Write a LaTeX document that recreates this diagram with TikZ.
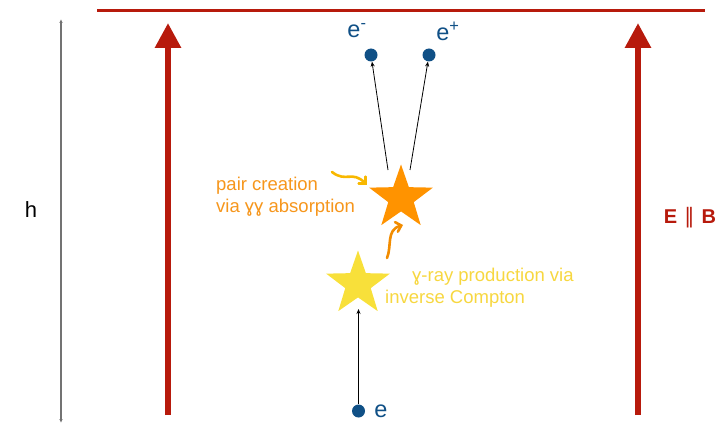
\documentclass[tikz,border=0pt]{standalone}
\usepackage{fontspec}
\setmainfont{Liberation Sans}
\newfontfamily\symfont{DejaVu Sans}
\usetikzlibrary{arrows.meta,shapes.geometric}

\definecolor{fieldred}{RGB}{183,26,12}
\definecolor{leptonblue}{RGB}{16,80,134}
\definecolor{pairorange}{RGB}{255,147,0}
\definecolor{pairtext}{RGB}{246,150,28}
\definecolor{comptonyellow}{RGB}{248,224,58}
\definecolor{comptontext}{RGB}{247,215,64}
\definecolor{waveamber}{RGB}{248,184,0}
\definecolor{waveorange}{RGB}{242,140,0}
\definecolor{scalegray}{RGB}{115,115,115}

\tikzset{
  fieldarrow/.style={draw=fieldred, line width=6pt,
    -{Triangle[width=25pt,length=25pt]}},
  lepton/.style={circle, fill=leptonblue, minimum size=13pt, inner sep=0pt},
  lepton label/.style={text=leptonblue, font=\fontsize{23.5}{25}\selectfont, inner sep=0pt},
  photonstar/.style={star, star points=5, star point ratio=2.5,
    inner sep=0pt, minimum size=67pt},
  track/.style={draw=black, line width=0.8pt, -{Stealth[length=5pt,width=4pt]}},
  wave/.style={line width=2.6pt, line cap=round,
    -{Straight Barb[length=5pt,width=10pt,line cap=round]}},
  caption/.style={font=\fontsize{18.5}{22}\selectfont, align=left, inner sep=0pt},
}

\begin{document}
\begin{tikzpicture}[x=1pt, y=-1pt]
  \useasboundingbox (0,0) rectangle (723,425);

  % height scale on the left
  \coordinate (hbot) at (61,423);
  \coordinate (htop) at (61,19);
  \draw[draw=scalegray, line width=1.2pt, {Latex[length=4pt,width=3.5pt]}-{Latex[length=4pt,width=3.5pt]}] (hbot) -- (htop);
  \node[font=\fontsize{22}{24}\selectfont, inner sep=0pt] (hlabel) at (31,210) {h};

  % upper boundary of the gap
  \coordinate (capL) at (97,11);
  \coordinate (capR) at (705,11);
  \draw[draw=fieldred, line width=3pt] (capL) -- (capR);

  % parallel E and B field arrows
  \coordinate (fL0) at (168,415);
  \coordinate (fL1) at (168,23);
  \coordinate (fR0) at (638,415);
  \coordinate (fR1) at (638,23);
  \draw[fieldarrow] (fL0) -- (fL1);
  \draw[fieldarrow] (fR0) -- (fR1);
  \node[text=fieldred, font=\fontsize{20}{22}\selectfont\bfseries, inner sep=0pt] (ebl) at (690,218)
    {E\hspace{7pt}{\symfont\mdseries\fontsize{21}{22}\selectfont ∥}\hspace{7pt}B};

  % stars: gamma-ray production and pair creation
  \node[photonstar, fill=comptonyellow] (ystar) at (358,284) {};
  \node[photonstar, fill=pairorange] (ostar) at (401,198) {};

  % leptons
  \node[lepton] (e0) at (358.5,411) {};
  \node[lepton label] (e0l) at (381,411) {e};
  \node[lepton] (em) at (371,55) {};
  \node[lepton] (ep) at (429,55) {};
  \node[lepton label] (eml) at (357,31) {e\textsuperscript{-}};
  \node[lepton label] (epl) at (448,31) {e\textsuperscript{+}};

  % particle tracks
  \coordinate (yin) at (358.5,309);
  \draw[track] (e0) -- (yin);
  \coordinate (oL) at (388,170);
  \coordinate (oR) at (410,170);
  \draw[track] (oL) -- (em);
  \draw[track] (oR) -- (ep);

  % photon paths
  \coordinate (w1a) at (332,172);
  \coordinate (w1b) at (367,185);
  \draw[wave, draw=waveamber] (w1a) .. controls (346,183) and (352,170) .. (w1b);
  \coordinate (w2a) at (387,258);
  \coordinate (w2b) at (403,225);
  \draw[wave, draw=waveorange] (w2a) .. controls (392,246) and (386,230) .. (w2b);

  % process captions
  \node[caption, text=pairtext, anchor=west] (pairtxt) at (216,197)
    {pair creation\\via ɣɣ absorption};
  \node[caption, text=comptontext, anchor=west] (ictxt) at (385,288)
    {\hspace*{27pt}ɣ-ray production via\\inverse Compton};
\end{tikzpicture}
\end{document}
